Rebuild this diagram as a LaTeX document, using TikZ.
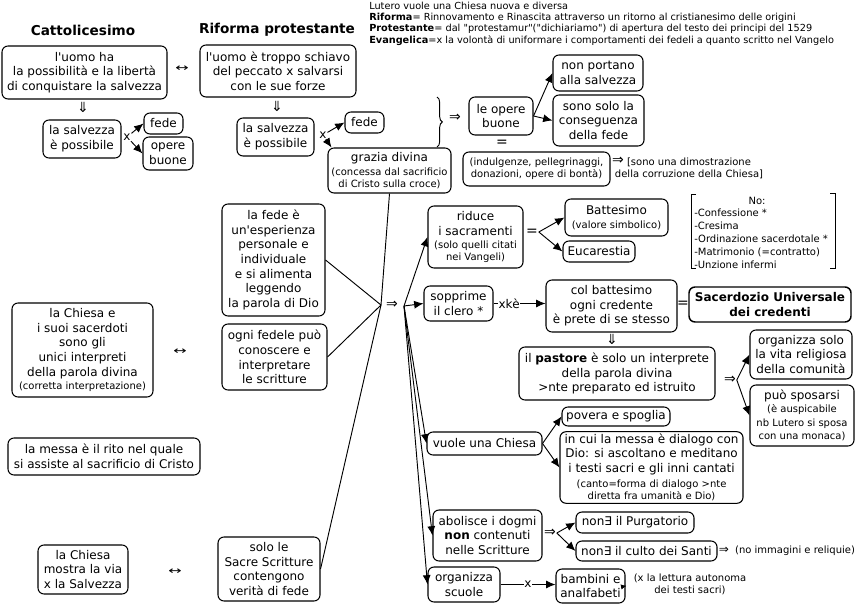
\documentclass[tikz,border=0pt]{standalone}
\usepackage{fontspec}
\usepackage{graphicx}
\setmainfont{DejaVu Sans}
\usetikzlibrary{arrows.meta,decorations.pathreplacing}
\newcommand\smf{\fontsize{7.5pt}{8.8pt}\selectfont}
\newcommand\mnf{\fontsize{9pt}{11pt}\selectfont}
\newcommand\ap{\textquotesingle}
\newcommand\qq{\textquotedbl}
\newcommand\lrsym{{\fontsize{8pt}{8pt}\selectfont\scalebox{1.5}[1]{↔}}}
\begin{document}
\begin{tikzpicture}[x=0.75pt,y=-0.75pt,
 box/.style={draw, line width=0.8pt, rounded corners=4.5pt, align=center, inner sep=1.5pt, font=\mnf, fill=white},
 wh/.style 2 args={minimum width=#1*0.75pt, minimum height=#2*0.75pt},
 lbl/.style={inner sep=0.5pt, font=\mnf, align=center},
 sym/.style={inner sep=0.5pt, font=\fontsize{10.5pt}{11pt}\selectfont},
 sml/.style={inner sep=0.5pt, font=\smf, align=center},
 ttl/.style={inner sep=0.5pt, font=\fontsize{10.2pt}{12pt}\selectfont\bfseries},
 arr/.style={line width=0.7pt, -{Latex[length=7pt,width=6pt]}},
 con/.style={line width=0.7pt},
 ]
\useasboundingbox (0,0) rectangle (866,605);
\fill[white] (0,0) rectangle (866,605);

% titles and header
\node[ttl] (tC) at (83,30) {Cattolicesimo};
\node[ttl] (tR) at (277,30) {Riforma protestante};
\node[anchor=west, align=left, inner sep=0pt, font=\fontsize{7.3pt}{8.4pt}\selectfont] (hdr) at (369,23.6)
 {Lutero vuole una Chiesa nuova e diversa\\
  \textbf{Riforma}= Rinnovamento e Rinascita attraverso un ritorno al cristianesimo delle origini\\
  \textbf{Protestante}= dal \qq protestamur\qq(\qq dichiariamo\qq) di apertura del testo dei principi del 1529\\
  \textbf{Evangelica}=x la volontà di uniformare i comportamenti dei fedeli a quanto scritto nel Vangelo};

% top rows
\node[box, wh={165}{53}] (c1) at (84.5,72.5) {l\ap uomo ha\\la possibilità e la libertà\\di conquistare la salvezza};
\node[sym] (lr1) at (182,69) {\lrsym};
\node[box, wh={156}{52}] (r1) at (278,71) {l\ap uomo è troppo schiavo\\del peccato x salvarsi\\con le sue forze};
\node[sym] (d1) at (83,107) {⇓};
\node[sym] (d2) at (277,106) {⇓};

\node[box, wh={78}{38}] (c2) at (82,139) {la salvezza\\è possibile};
\node[lbl] (cx) at (127,137) {x};
\node[box, wh={39}{21}] (cfede) at (163.5,123.5) {fede};
\node[box, wh={50}{33}] (copere) at (168,153.5) {opere\\buone};
\draw[arr] (cx) -- (cfede.west);
\draw[arr] (cx) -- (copere.west);

\node[box, wh={77}{38}] (r2) at (275.5,137) {la salvezza\\è possibile};
\node[lbl] (rx) at (323,135) {x};
\node[box, wh={39}{21}] (rfede) at (364.5,122.5) {fede};
\node[box, wh={123}{45}] (grazia) at (389.5,170.5) {grazia divina\\{\smf (concessa dal sacrificio}\\[-2pt]{\smf di Cristo sulla croce)}};
\draw[arr] (rx) -- (rfede.west);
\draw[arr] (rx) -- ([xshift=3pt]grazia.north west);

\coordinate (brT) at (437,97);
\coordinate (brB) at (437,147);
\draw[con, decorate, decoration={brace, amplitude=4pt}] (brT) -- (brB);
\node[sym] (im1) at (455,118) {⇒};
\node[box, wh={64}{38}] (obuone) at (501,116) {le opere\\buone};
\node[sym] (eq1) at (502,143) {=};
\node[box, wh={90}{36}] (nonport) at (598,73) {non portano\\alla salvezza};
\node[box, wh={91}{51}] (sonosolo) at (598.5,120.5) {sono solo la\\conseguenza\\della fede};
\draw[arr] (obuone.east) -- (nonport.west);
\draw[arr] (obuone.east) -- (sonosolo.west);
\node[box, font=\smf, wh={147}{34}] (indulg) at (536.5,169) {(indulgenze, pellegrinaggi,\\donazioni, opere di bontà)};
\node[sym] (im2) at (618,161) {⇒};
\node[sml] (dimo) at (689,168.5) {[sono una dimostrazione\\della corruzione della Chiesa]};

% middle column
\node[box, wh={103}{112}] (fedeE) at (273.5,260) {la fede è\\un\ap esperienza\\personale e\\individuale\\e si alimenta\\leggendo\\la parola di Dio};
\node[box, wh={105}{66}] (ognif) at (274.5,357) {ogni fedele può\\conoscere e\\interpretare\\le scritture};
\node[box, wh={102}{64}] (soloSS) at (269,569) {solo le\\Sacre Scritture\\contengono\\verità di fede};

\coordinate (conv) at (381,305);
\node[sym] (im3) at (392,305) {⇒};
\coordinate (fan) at (404,306);
\draw[con] (grazia.south) -- (conv);
\draw[con] (fedeE.east) -- (conv);
\draw[con] (ognif.east) -- (conv);
\draw[con] (soloSS.east) -- (conv);

\node[box, wh={95}{62}] (riduce) at (475.5,237) {riduce\\i sacramenti\\[-1pt]{\smf (solo quelli citati}\\[-1.8pt]{\smf nei Vangeli)}};
\node[box, wh={69}{35}] (sopp) at (458.5,303.5) {sopprime\\il clero *};
\node[box, wh={115}{23}] (vuole) at (484.5,443.5) {vuole una Chiesa};
\node[box, wh={109}{51}] (abol) at (487.5,535.5) {abolisce i dogmi\\\textbf{non} contenuti\\nelle Scritture};
\node[box, wh={72}{35}] (org) at (464,584.5) {organizza\\scuole};
\draw[arr] (fan) -- (riduce.west);
\draw[arr] (fan) -- (sopp.west);
\draw[arr] (fan) -- (vuole.west);
\draw[arr] (fan) -- (abol.west);
\draw[arr] (fan) -- (org.west);

% sacramenti
\node[sym] (eq2) at (532,232) {=};
\node[box, wh={103}{37}] (batt) at (616.5,217.5) {Battesimo\\[-1pt]{\smf (valore simbolico)}};
\node[box, wh={72}{21}] (eucar) at (599,251.5) {Eucarestia};
\draw[arr] (eq2.east) -- (batt.west);
\draw[arr] (eq2.east) -- (eucar.west);
\node[sml] (noH) at (757,201) {No:};
\node[anchor=west, align=left, inner sep=0pt, font=\fontsize{7.5pt}{9.7pt}\selectfont] (noL) at (694,239)
 {-Confessione *\\-Cresima\\-Ordinazione sacerdotale *\\-Matrimonio (=contratto)\\-Unzione infermi};
\draw[con] (696,194) -- (691,194) -- (691,268) -- (696,268);
\draw[con] (830,193) -- (835,193) -- (835,268) -- (830,268);

% clero
\node[box, wh={131}{52}] (colb) at (611.5,306) {col battesimo\\ogni credente\\è prete di se stesso};
\draw[arr] (sopp.east) -- node[lbl, fill=white, pos=0.3] (xke) {xkè} (sopp.east -| colb.west);
\node[sym] (eq3) at (683,304) {=};
\node[box, line width=1.1pt, font=\mnf\bfseries, wh={162}{35}] (sacerd) at (770,304.5) {Sacerdozio Universale\\dei credenti};
\node[sym] (d3) at (612,339) {⇓};
\node[box, wh={196}{53}] (pastore) at (617,373.5) {il \textbf{pastore} è solo un interprete\\della parola divina\\>nte preparato ed istruito};
\node[sym] (im4) at (730,380) {⇒};
\node[box, wh={102}{49}] (orgsolo) at (801,354.5) {organizza solo\\la vita religiosa\\della comunità};
\node[box, wh={104}{61}] (puo) at (802,415.5) {può sposarsi\\[-1pt]{\smf (è auspicabile}\\[-0.8pt]{\smf nb Lutero si sposa}\\[-0.8pt]{\smf con una monaca)}};
\draw[arr] (im4.east) -- (orgsolo.west);
\draw[arr] (im4.east) -- (puo.west);

% chiesa
\node[box, wh={108}{19}] (povera) at (616,416.5) {povera e spoglia};
\node[box, wh={183}{71}] (incui) at (651.5,467.5) {in cui la messa è dialogo con\\Dio: si ascoltano e meditano\\i testi sacri e gli inni cantati\\{\smf (canto=forma di dialogo >nte}\\[-1.5pt]{\smf diretta fra umanità e Dio)}};
\draw[arr] (vuole.east) -- (povera.west);
\draw[arr] (vuole.east) -- (incui.west);

% dogmi
\node[sym] (im5) at (550,533) {⇒};
\node[box, wh={118}{21}] (purg) at (635,522.5) {non∃ il Purgatorio};
\node[box, wh={141}{20}] (culto) at (646.5,551) {non∃ il culto dei Santi};
\draw[arr] (im5.east) -- (purg.west);
\draw[arr] (im5.east) -- (culto.west);
\node[lbl] (im6) at (724,550) {⇒};
\node[sml] (noimm) at (795,551) {(no immagini e reliquie)};

% scuole
\node[box, wh={69}{34}] (bamb) at (590.5,586) {bambini e\\analfabeti};
\draw[arr] (org.east) -- node[lbl, fill=white] (xs) {x} (org.east -| bamb.west);
\node[sml] (lett) at (690,584.5) {(x la lettura autonoma\\dei testi sacri)};
\draw[line width=0.6pt, -{Latex[length=4pt,width=4pt]}, shorten >=5pt] (bamb.east) -- (lett.west);

% cattolicesimo bottom
\node[box, wh={141}{94}] (chiesaE) at (82.5,350) {la Chiesa e\\i suoi sacerdoti\\sono gli\\unici interpreti\\della parola divina\\[-1pt]{\smf (corretta interpretazione)}};
\node[sym] (lr2) at (180,352) {\lrsym};
\node[box, wh={192}{37}] (messa) at (104,456.5) {la messa è il rito nel quale\\si assiste al sacrificio di Cristo};
\node[box, wh={90}{49}] (chiesaM) at (83,569.5) {la Chiesa\\mostra la via\\x la Salvezza};
\node[sym] (lr3) at (175,572) {\lrsym};
\end{tikzpicture}
\end{document}
